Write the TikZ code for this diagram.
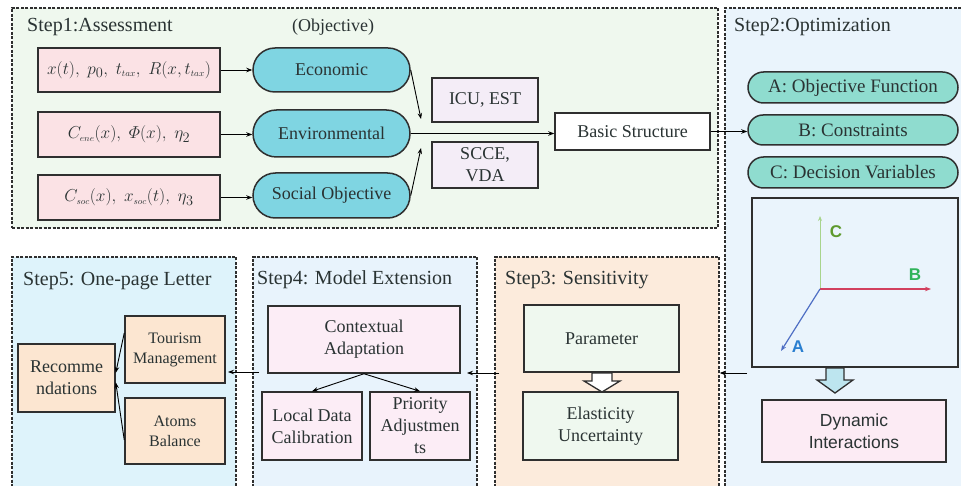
\documentclass[tikz,border=0pt]{standalone}
\usepackage{amsmath}
\usepackage{fontspec}
\setmainfont{Liberation Serif}
\newfontfamily\sansf{Liberation Sans}
\usetikzlibrary{arrows.meta,calc,shapes.misc}

\definecolor{bgone}{HTML}{EFF8EE}
\definecolor{bgtwo}{HTML}{EAF4FC}
\definecolor{bgthree}{HTML}{FCEBDC}
\definecolor{bgfour}{HTML}{E8F3FC}
\definecolor{bgfive}{HTML}{DEF3FB}
\definecolor{inpink}{HTML}{FBE2E5}
\definecolor{pillcyan}{HTML}{7FD5E2}
\definecolor{pillteal}{HTML}{8FDCCF}
\definecolor{lav}{HTML}{F4EDF7}
\definecolor{mint}{HTML}{EFF8EF}
\definecolor{rose}{HTML}{FCEDF6}
\definecolor{peach}{HTML}{FCE6D1}
\definecolor{dynpink}{HTML}{FCEBF4}
\definecolor{edge}{HTML}{2F2F2F}
\definecolor{txt}{HTML}{2A3333}
\definecolor{axC}{HTML}{A8D48C}
\definecolor{labC}{HTML}{5E9A2E}
\definecolor{axB}{HTML}{D2405E}
\definecolor{labB}{HTML}{2FB35A}
\definecolor{axA}{HTML}{4F6FC4}
\definecolor{labA}{HTML}{2A7FD0}
\definecolor{hollowblue}{HTML}{BDE5EF}

\newcommand{\tsub}[1]{_{\scriptscriptstyle #1}}

\begin{document}
\begin{tikzpicture}[x=1pt,y=-1pt,
  stepframe/.style={draw=edge, dash pattern=on 3pt off 1.5pt, line width=1.4pt},
  sz/.style 2 args={minimum width=#1pt, minimum height=#2pt},
  ttl/.style={inner sep=0pt, text=txt, font=\fontsize{20}{24}\selectfont},
  bx/.style={draw=edge, line width=1.5pt, align=center, inner sep=0pt, text=txt, font=\fontsize{18}{22}\selectfont},
  smallbx/.style={bx, font=\fontsize{16}{20}\selectfont},
  mathbx/.style={bx, font=\fontsize{19}{22}\selectfont},
  pill/.style={bx, rounded rectangle},
  arr/.style={draw=black, line width=0.9pt, -{Stealth[length=6pt,width=4.5pt]}},
  axlab/.style={inner sep=0pt, font=\sansf\bfseries\fontsize{17}{20}\selectfont},
  hollow/.style={draw=edge, line width=1.3pt, line join=miter}
]
\useasboundingbox (0,0) rectangle (961,486);
\clip (0,0) rectangle (961,486);

% ---------- step frames ----------
\node[stepframe, fill=bgone, sz={706}{220}] (s1) at (365,118) {};
\node[stepframe, fill=bgtwo, sz={250}{492}] (s2) at (850,254) {};
\node[stepframe, fill=bgthree, sz={224}{243}] (s3) at (607,378.5) {};
\node[stepframe, fill=bgfour, sz={224}{243}] (s4) at (365,378.5) {};
\node[stepframe, fill=bgfive, sz={224}{243}] (s5) at (124,378.5) {};

% ---------- titles ----------
\node[ttl, anchor=west] (t1) at (27,27) {Step1:Assessment};
\node[ttl, font=\fontsize{18}{22}\selectfont] (obj) at (333,27) {(Objective)};
\node[ttl, anchor=west] (t2) at (734,27) {Step2:Optimization};
\node[ttl, anchor=west] (t3) at (505,280) {Step3: Sensitivity};
\node[ttl, anchor=west] (t4) at (257,280) {Step4: Model Extension};
\node[ttl, anchor=west] (t5) at (23,281) {Step5: One-page Letter};

% ---------- Step 1 ----------
\node[mathbx, fill=inpink, sz={182}{44}] (in1) at (129,70) {$x(t),\; p_0,\; t\tsub{tax},\; R(x,t\tsub{tax})$};
\node[mathbx, fill=inpink, sz={182}{45}] (in2) at (129,134.5) {$C\tsub{ene}(x),\; \varPhi(x),\; \eta_2$};
\node[mathbx, fill=inpink, sz={182}{45}] (in3) at (129,197.5) {$C\tsub{soc}(x),\; x\tsub{soc}(t),\; \eta_3$};

\node[pill, fill=pillcyan, sz={157}{44}] (eco) at (331.5,70) {Economic};
\node[pill, fill=pillcyan, sz={157}{47}] (env) at (331.5,133.5) {Environmental};
\node[pill, fill=pillcyan, sz={157}{45}] (soc) at (331.5,195.5) {Social Objective};

\node[bx, fill=lav, sz={106}{44}] (icu) at (485,100) {ICU, EST};
\node[bx, fill=lav, sz={106}{46}] (scce) at (485,165) {SCCE,\\VDA};
\node[bx, fill=white, sz={155}{37}] (basic) at (632.5,131.5) {Basic Structure};

\coordinate (m1) at (421,119);
\coordinate (m2) at (421,148);

\draw[arr] (in1.east) -- (eco.west);
\draw[arr] (in2.east) -- (in2.east -| env.west);
\draw[arr] (in3.east) -- (in3.east -| soc.west);
\draw[arr] (eco.east) -- (m1);
\draw[arr] (soc.east) -- (m2);
\draw[arr] (env.east) -- (env.east -| basic.west);

% ---------- Step 2 ----------
\node[pill, fill=pillteal, sz={210}{31}, font=\fontsize{19}{22}\selectfont] (pA) at (853,87.5) {A: Objective Function};
\node[pill, fill=pillteal, sz={210}{30}, font=\fontsize{19}{22}\selectfont] (pB) at (853,130) {B: Constraints};
\node[pill, fill=pillteal, sz={210}{31}, font=\fontsize{19}{22}\selectfont] (pC) at (853,172.5) {C: Decision Variables};

\draw[arr] (basic.east) -- (basic.east -| pB.west);

\node[bx, fill=bgtwo, sz={206}{169}] (axbox) at (855,282.5) {};
\coordinate (o) at (820,289);
\coordinate (cEnd) at (820,216);
\coordinate (bEnd) at (931,289);
\coordinate (aEnd) at (781,351);
\draw[axC, line width=1pt, -{Stealth[length=5pt,width=4pt]}] (o) -- (cEnd);
\draw[axB, line width=1.2pt, -{Stealth[length=6pt,width=4.5pt]}] (o) -- (bEnd);
\draw[axA, line width=1.2pt, -{Stealth[length=6pt,width=4.5pt]}] (o) -- (aEnd);
\node[axlab, text=labC] (lC) at (836,232) {C};
\node[axlab, text=labB] (lB) at (915,275) {B};
\node[axlab, text=labA] (lA) at (798,347) {A};

\draw[hollow, fill=hollowblue] (826,368) -- (844,368) -- (844,380) -- (853,380) -- (835,393) -- (817,380) -- (826,380) -- cycle;

\node[bx, fill=dynpink, sz={184}{62}, font=\sansf\fontsize{17.5}{22}\selectfont] (dyn) at (854,431) {Dynamic\\Interactions};

\coordinate (s2out) at (747,373);
\draw[arr] (s2out) -- (s2out -| s3.east);

% ---------- Step 3 ----------
\node[bx, fill=mint, sz={155}{67}] (param) at (601.5,338.5) {Parameter};
\node[bx, fill=mint, sz={155}{68}] (elast) at (600.5,426) {Elasticity\\Uncertainty};
\draw[hollow, fill=white] (592,373) -- (612,373) -- (612,381) -- (620,381) -- (602,392) -- (584,381) -- (592,381) -- cycle;

\coordinate (s3out) at (499,373);
\coordinate (s4in) at (467,373);
\draw[arr] (s3out) -- (s4in);

% ---------- Step 4 ----------
\node[bx, fill=rose, sz={192}{67}] (ctx) at (364,339.5) {Contextual\\Adaptation};
\node[bx, fill=rose, sz={100}{68}] (local) at (312,426) {Local Data\\Calibration};
\node[bx, fill=rose, sz={100}{68}] (prio) at (420,426) {Priority\\Adjustmen\\ts};
\draw[arr] (ctx.south) -- (local.north);
\draw[arr] (ctx.south) -- (prio.north);

\coordinate (s4out) at (259,372);
\coordinate (s5in) at (228,372);
\draw[arr] (s4out) -- (s5in);

% ---------- Step 5 ----------
\node[bx, fill=peach, sz={97}{68}] (rec) at (66.5,378) {Recomme\\ndations};
\node[smallbx, fill=peach, sz={100}{67}] (tour) at (175,349.5) {Tourism\\Management};
\node[smallbx, fill=peach, sz={100}{66}] (atoms) at (175,431) {Atoms\\Balance};
\draw[arr] (tour.162) -- (rec.6);
\draw[arr] (atoms.190) -- (rec.-5);
\end{tikzpicture}
\end{document}
